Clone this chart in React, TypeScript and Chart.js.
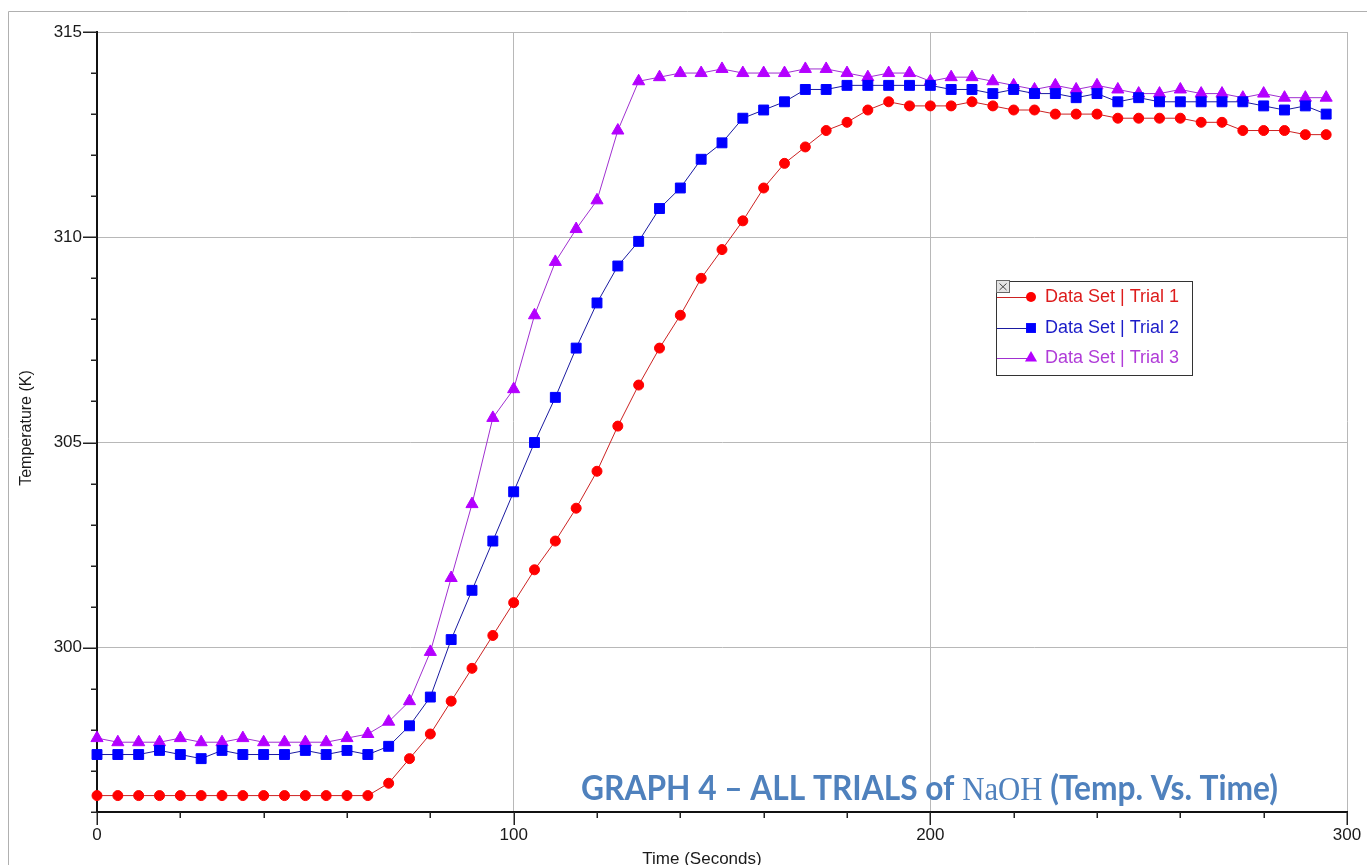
import React, { useEffect, useRef } from 'react';
import { Chart, registerables } from 'chart.js';

Chart.register(...registerables);

// ---- data ----
const times = [
  0, 5, 10, 15, 20, 25, 30, 35, 40, 45, 50, 55, 60, 65, 70, 75, 80, 85, 90, 95,
  100, 105, 110, 115, 120, 125, 130, 135, 140, 145, 150, 155, 160, 165, 170, 175, 180, 185, 190, 195,
  200, 205, 210, 215, 220, 225, 230, 235, 240, 245, 250, 255, 260, 265, 270, 275, 280, 285, 290, 295,
];

const trial1 = [
  296.4, 296.4, 296.4, 296.4, 296.4, 296.4, 296.4, 296.4, 296.4, 296.4, 296.4, 296.4, 296.4, 296.4, 296.7, 297.3, 297.9, 298.7, 299.5, 300.3,
  301.1, 301.9, 302.6, 303.4, 304.3, 305.4, 306.4, 307.3, 308.1, 309.0, 309.7, 310.4, 311.2, 311.8, 312.2, 312.6, 312.8, 313.1, 313.3, 313.2,
  313.2, 313.2, 313.3, 313.2, 313.1, 313.1, 313.0, 313.0, 313.0, 312.9, 312.9, 312.9, 312.9, 312.8, 312.8, 312.6, 312.6, 312.6, 312.5, 312.5,
];

const trial2 = [
  297.4, 297.4, 297.4, 297.5, 297.4, 297.3, 297.5, 297.4, 297.4, 297.4, 297.5, 297.4, 297.5, 297.4, 297.6, 298.1, 298.8, 300.2, 301.4, 302.6,
  303.8, 305.0, 306.1, 307.3, 308.4, 309.3, 309.9, 310.7, 311.2, 311.9, 312.3, 312.9, 313.1, 313.3, 313.6, 313.6, 313.7, 313.7, 313.7, 313.7,
  313.7, 313.6, 313.6, 313.5, 313.6, 313.5, 313.5, 313.4, 313.5, 313.3, 313.4, 313.3, 313.3, 313.3, 313.3, 313.3, 313.2, 313.1, 313.2, 313.0,
];

const trial3 = [
  297.8, 297.7, 297.7, 297.7, 297.8, 297.7, 297.7, 297.8, 297.7, 297.7, 297.7, 297.7, 297.8, 297.9, 298.2, 298.7, 299.9, 301.7, 303.5, 305.6,
  306.3, 308.1, 309.4, 310.2, 310.9, 312.6, 313.8, 313.9, 314.0, 314.0, 314.1, 314.0, 314.0, 314.0, 314.1, 314.1, 314.0, 313.9, 314.0, 314.0,
  313.8, 313.9, 313.9, 313.8, 313.7, 313.6, 313.7, 313.6, 313.7, 313.6, 313.5, 313.5, 313.6, 313.5, 313.5, 313.4, 313.5, 313.4, 313.4, 313.4,
];

const seriesNames = ['Data Set | Trial 1', 'Data Set | Trial 2', 'Data Set | Trial 3'];
const yLabelTicks = [300, 305, 310, 315];
const xLabelTicks = [0, 100, 200, 300];
const xAxisTitle = 'Time (Seconds)';
const yAxisTitle = 'Temperature (K)';
const titleParts = ['GRAPH 4 \u2013 ALL TRIALS of ', 'NaOH', ' (Temp. Vs. Time)'];

// ---- styles ----
const markerColors = ['#ff0000', '#0000ff', '#b400ff'];
const lineColors = ['#cc2222', '#1a1aa0', '#a030d0'];
const legendTextColors = ['#dd1c1c', '#1c1cc8', '#b03cd8'];
const pointStyles = ['circle', 'rect', 'triangle'];
const pointRadii = [5, 7, 7];
const FONT = '"Liberation Sans", Arial, sans-serif';

function drawMarker(ctx: CanvasRenderingContext2D, style: string, x: number, y: number, r: number, color: string) {
  ctx.fillStyle = color;
  ctx.beginPath();
  if (style === 'circle') {
    ctx.arc(x, y, r, 0, Math.PI * 2);
  } else if (style === 'rect') {
    const s = Math.SQRT1_2 * r;
    ctx.rect(x - s, y - s, 2 * s, 2 * s);
  } else {
    ctx.moveTo(x, y - r);
    ctx.lineTo(x + r * Math.sin((2 * Math.PI) / 3), y - r * Math.cos((2 * Math.PI) / 3));
    ctx.lineTo(x + r * Math.sin((4 * Math.PI) / 3), y - r * Math.cos((4 * Math.PI) / 3));
    ctx.closePath();
  }
  ctx.fill();
}

const overlayPlugin = {
  id: 'overlay',
  afterDraw(chart: any) {
    const ctx: CanvasRenderingContext2D = chart.ctx;
    const xs = chart.scales.x;
    const ys = chart.scales.y;
    const ca = chart.chartArea;
    ctx.save();

    // outer frame
    ctx.strokeStyle = '#b0b0b0';
    ctx.lineWidth = 1;
    ctx.beginPath();
    ctx.moveTo(8.5, 865);
    ctx.lineTo(8.5, 11.5);
    ctx.lineTo(1367, 11.5);
    ctx.stroke();

    // tick marks
    ctx.strokeStyle = '#222';
    ctx.lineWidth = 1.5;
    for (let v = ys.min; v <= ys.max; v += 1) {
      const py = Math.round(ys.getPixelForValue(v)) + 0.25;
      const len = v % 5 === 0 ? 14 : 6;
      ctx.beginPath();
      ctx.moveTo(ca.left - len, py);
      ctx.lineTo(ca.left, py);
      ctx.stroke();
    }
    for (let v = xs.min; v <= xs.max; v += 20) {
      const px = Math.round(xs.getPixelForValue(v)) + 0.25;
      const len = v % 100 === 0 ? 13 : 6;
      ctx.beginPath();
      ctx.moveTo(px, ca.bottom);
      ctx.lineTo(px, ca.bottom + len);
      ctx.stroke();
    }

    // axis titles
    ctx.fillStyle = '#1a1a1a';
    ctx.font = `17px ${FONT}`;
    ctx.textAlign = 'center';
    ctx.textBaseline = 'middle';
    ctx.fillText(xAxisTitle, 702, 859);
    ctx.save();
    ctx.translate(27, 428);
    ctx.rotate(-Math.PI / 2);
    ctx.font = `16px ${FONT}`;
    ctx.fillText(yAxisTitle, 0, 0);
    ctx.restore();

    // overlay title
    const fonts = ['bold 34px Lato, "Open Sans", sans-serif', '33px "Liberation Serif", "DejaVu Serif", serif', 'bold 34px Lato, "Open Sans", sans-serif'];
    let total = 0;
    const widths: number[] = [];
    titleParts.forEach((t, i) => {
      ctx.font = fonts[i];
      const w = ctx.measureText(t).width;
      widths.push(w);
      total += w;
    });
    const targetW = 697;
    ctx.save();
    ctx.translate(581, 800);
    ctx.scale(targetW / total, 1);
    ctx.fillStyle = '#4f81bd';
    ctx.textAlign = 'left';
    ctx.textBaseline = 'alphabetic';
    let cx = 0;
    titleParts.forEach((t, i) => {
      ctx.font = fonts[i];
      ctx.fillText(t, cx, 0);
      cx += widths[i];
    });
    ctx.restore();

    // legend
    const bx = 996.5, by = 281.5, bw = 196, bh = 94;
    ctx.fillStyle = '#ffffff';
    ctx.fillRect(bx, by, bw, bh);
    ctx.strokeStyle = '#333';
    ctx.lineWidth = 1;
    ctx.strokeRect(bx, by, bw, bh);
    // close box
    ctx.fillStyle = '#e4e4e4';
    ctx.fillRect(996.5, 280.5, 13, 12);
    ctx.strokeStyle = '#666';
    ctx.strokeRect(996.5, 280.5, 13, 12);
    ctx.strokeStyle = '#444';
    ctx.beginPath();
    ctx.moveTo(999.5, 283.5); ctx.lineTo(1006.5, 290);
    ctx.moveTo(1006.5, 283.5); ctx.lineTo(999.5, 290);
    ctx.stroke();

    const rows = [297, 328, 358];
    chart.data.datasets.forEach((ds: any, i: number) => {
      const y = rows[i];
      ctx.strokeStyle = lineColors[i];
      ctx.lineWidth = 1;
      ctx.beginPath();
      ctx.moveTo(997, y + 0.5);
      ctx.lineTo(1031, y + 0.5);
      ctx.stroke();
      drawMarker(ctx, pointStyles[i], 1031, y, i === 0 ? 5 : 7, markerColors[i]);
      ctx.fillStyle = legendTextColors[i];
      ctx.font = `18px ${FONT}`;
      ctx.textAlign = 'left';
      ctx.textBaseline = 'middle';
      ctx.fillText(ds.label, 1045, y);
    });

    ctx.restore();
  },
};

export default function App() {
  const canvasRef = useRef<HTMLCanvasElement | null>(null);

  useEffect(() => {
    const canvas = canvasRef.current;
    if (!canvas) return;
    const series = [trial1, trial2, trial3];
    const chart = new Chart(canvas, {
      type: 'line',
      data: {
        datasets: series.map((vals, i) => ({
          label: seriesNames[i],
          data: times.map((t, j) => ({ x: t, y: vals[j] })),
          borderColor: lineColors[i],
          backgroundColor: markerColors[i],
          borderWidth: 1,
          pointStyle: pointStyles[i] as any,
          pointRadius: pointRadii[i],
          pointBackgroundColor: markerColors[i],
          pointBorderColor: markerColors[i],
          pointBorderWidth: 1,
          tension: 0,
          fill: false,
          clip: false as any,
        })),
      },
      options: {
        responsive: false,
        animation: false,
        events: [],
        layout: { autoPadding: false, padding: { top: 32, right: 20, left: 0, bottom: 0 } },
        plugins: {
          legend: { display: false },
          tooltip: { enabled: false },
          title: { display: false },
        },
        scales: {
          x: {
            type: 'linear',
            min: 0,
            max: 300,
            afterFit: (s: any) => {
              s.height = 53;
              s.paddingLeft = 0;
              s.paddingRight = 0;
            },
            ticks: {
              stepSize: 20,
              padding: 13,
              color: '#1a1a1a',
              font: { family: FONT, size: 17 },
              callback: (v: any) => (xLabelTicks.includes(Number(v)) ? String(v) : ''),
              maxRotation: 0,
              autoSkip: false,
            },
            grid: {
              drawTicks: false,
              color: (c: any) => (c.tick && xLabelTicks.includes(c.tick.value) ? '#b8b8b8' : 'rgba(0,0,0,0)'),
              lineWidth: 1,
            },
            border: { display: true, color: '#111', width: 2 },
          },
          y: {
            type: 'linear',
            min: 296,
            max: 315,
            afterFit: (s: any) => {
              s.width = 97;
              s.paddingTop = 0;
              s.paddingBottom = 0;
            },
            ticks: {
              stepSize: 1,
              padding: 15,
              color: '#1a1a1a',
              font: { family: FONT, size: 17 },
              callback: (v: any) => (yLabelTicks.includes(Number(v)) ? String(v) : ''),
              autoSkip: false,
            },
            grid: {
              drawTicks: false,
              color: (c: any) => (c.tick && yLabelTicks.includes(c.tick.value) ? '#b8b8b8' : 'rgba(0,0,0,0)'),
              lineWidth: 1,
            },
            border: { display: true, color: '#111', width: 2 },
          },
        },
      },
      plugins: [overlayPlugin],
    });
    return () => chart.destroy();
  }, []);

  return (
    <div style={{ position: 'fixed', left: 0, top: 0, width: 1367, height: 865, background: '#fff' }}>
      <canvas ref={canvasRef} width={1367} height={865} style={{ display: 'block' }} />
    </div>
  );
}
